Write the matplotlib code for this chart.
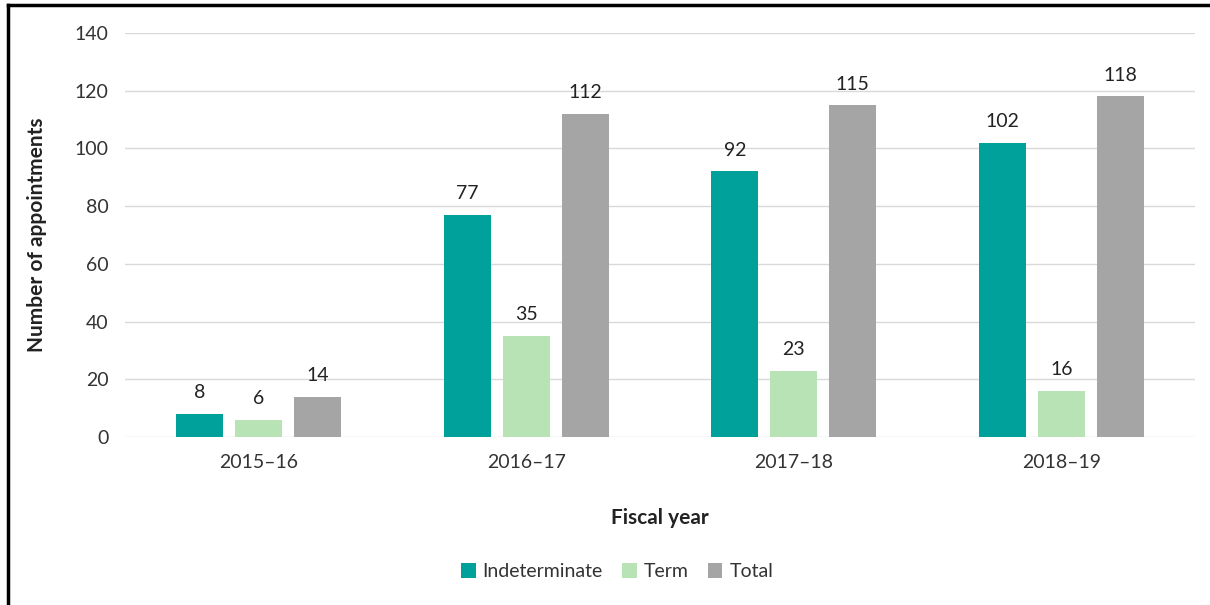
import matplotlib
matplotlib.use("Agg")
import matplotlib.pyplot as plt
import numpy as np

years = ["2015\u201316", "2016\u201317", "2017\u201318", "2018\u201319"]
indeterminate = [8, 77, 92, 102]
term = [6, 35, 23, 16]
total = [14, 112, 115, 118]

series = [
    ("Indeterminate", indeterminate, "#00A19A"),
    ("Term", term, "#B8E4B5"),
    ("Total", total, "#A5A5A5"),
]

plt.rcParams["font.family"] = ["Lato", "DejaVu Sans"]

fig = plt.figure(figsize=(12.1, 6.05), dpi=100)
ax = fig.add_axes([0.1033, 0.2777, 0.8843, 0.6678])

x = np.arange(len(years))
width = 0.176
step = 0.22
for i, (name, vals, color) in enumerate(series):
    pos = x + (i - 1) * step
    bars = ax.bar(pos, vals, width, color=color, label=name, zorder=3)
    for b, v in zip(bars, vals):
        ax.annotate(str(v), (b.get_x() + b.get_width() / 2, v),
                    xytext=(0, 9), textcoords="offset points",
                    ha="center", va="bottom", fontsize=14, color="#222222")

ax.set_xlim(-0.5, len(years) - 0.5)
ax.set_ylim(0, 140)
ax.set_yticks(range(0, 141, 20))
ax.set_xticks(x)
ax.set_xticklabels(years)
ax.tick_params(axis="both", length=0, labelsize=14, colors="#333333")
ax.tick_params(axis="x", pad=12)
ax.tick_params(axis="y", pad=12)
ax.grid(axis="y", color="#D9D9D9", linewidth=1, zorder=0)
for s in ax.spines.values():
    s.set_visible(False)

ax.set_ylabel("Number of appointments", fontsize=15, fontweight="bold",
              color="#222222", labelpad=20)
ax.set_xlabel("Fiscal year", fontsize=15, fontweight="bold",
              color="#222222", labelpad=27)

fig.legend(loc="center", bbox_to_anchor=(0.51, 0.055), ncol=3, frameon=False,
           fontsize=14, handlelength=0.75, handleheight=0.75,
           handletextpad=0.35, columnspacing=1.0, labelcolor="#333333")

# frame along the top and left edges of the figure
fig.add_artist(plt.Line2D([0.0066, 0.0066], [0, 0.9917], color="black",
                          linewidth=2.5, transform=fig.transFigure))
fig.add_artist(plt.Line2D([0.0066, 1.0], [0.9917, 0.9917], color="black",
                          linewidth=2.5, transform=fig.transFigure))

fig.savefig("out.png", dpi=100, facecolor="white")
